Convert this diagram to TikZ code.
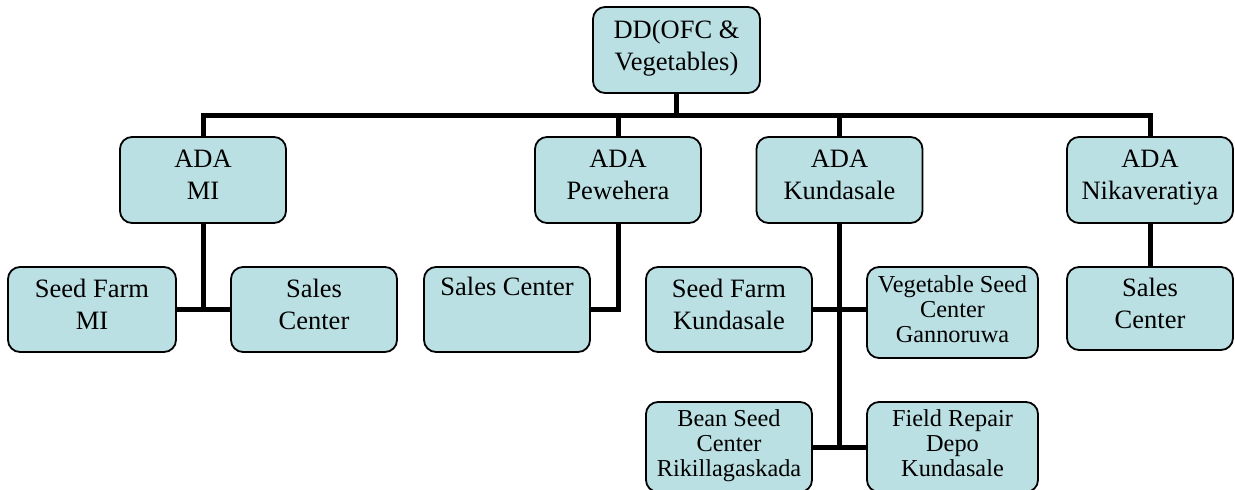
\documentclass[tikz,border=0pt]{standalone}
\usepackage{fontspec}
\setmainfont{Liberation Serif}
\definecolor{boxfill}{RGB}{187,224,227}
\tikzset{
  orgbox/.style={draw=black, line width=1.8pt, fill=boxfill, rounded corners=12pt,
    align=center, inner sep=0pt, font=\fontsize{26.5}{32}\selectfont,
    execute at end node=\strut},
  smallbox/.style={orgbox, font=\fontsize{24.3}{25}\selectfont},
  link/.style={line width=5pt, line join=miter, draw=black}
}
\begin{document}
\begin{tikzpicture}[x=1pt,y=-1pt]
\useasboundingbox (0,0) rectangle (1235,490);
\clip (0,0) rectangle (1235,490);
\coordinate (bus) at (676.5,115.5);
\node[orgbox, minimum width=167pt, minimum height=86pt] (dd) at (676.5,50) {DD(OFC \&\\Vegetables)};
\node[orgbox, minimum width=166pt, minimum height=86pt] (adami) at (203,180) {ADA\\MI};
\node[orgbox, minimum width=166pt, minimum height=86pt] (adapew) at (618,180) {ADA\\Pewehera};
\node[orgbox, minimum width=166pt, minimum height=86pt] (adakun) at (839.5,180) {ADA\\Kundasale};
\node[orgbox, minimum width=166pt, minimum height=86pt] (adanik) at (1150,180) {ADA\\Nikaveratiya};
\node[orgbox, minimum width=168pt, minimum height=85pt] (sfmi) at (92,309.5) {Seed Farm\\MI};
\node[orgbox, minimum width=166pt, minimum height=85pt] (scmi) at (314,309.5) {Sales\\Center};
\node[orgbox, minimum width=166pt, minimum height=85pt, text height=18pt, text depth=47pt] (scpew) at (507,309.5) {Sales Center};
\node[orgbox, minimum width=166pt, minimum height=85pt] (sfkun) at (729,309.5) {Seed Farm\\Kundasale};
\node[smallbox, minimum width=171pt, minimum height=91pt] (vsc) at (952.5,312.5) {Vegetable Seed\\Center\\Gannoruwa};
\node[orgbox, minimum width=166pt, minimum height=83pt] (scnik) at (1150,308.5) {Sales\\Center};
\node[smallbox, minimum width=166pt, minimum height=90pt] (bean) at (729,447) {Bean Seed\\Center\\Rikillagaskada};
\node[smallbox, minimum width=171pt, minimum height=90pt] (field) at (952.5,447) {Field Repair\\Depo\\Kundasale};
\draw[link] (dd.south) -- (bus);
\draw[link] (adami.north) |- (bus) -| (adanik.north);
\draw[link] (adapew.north) -- (adapew.north |- bus);
\draw[link] (adakun.north) -- (adakun.north |- bus);
\draw[link] (adami.south) -- (adami.south |- sfmi.east);
\draw[link] (sfmi.east) -- (scmi.west);
\draw[link] (adapew.south) |- (scpew.east);
\draw[link] (adakun.south) -- (adakun.south |- bean.east);
\draw[link] (sfkun.east) -- (vsc.west |- sfkun.east);
\draw[link] (bean.east) -- (field.west);
\draw[link] (adanik.south) -- (scnik.north);
\end{tikzpicture}
\end{document}
